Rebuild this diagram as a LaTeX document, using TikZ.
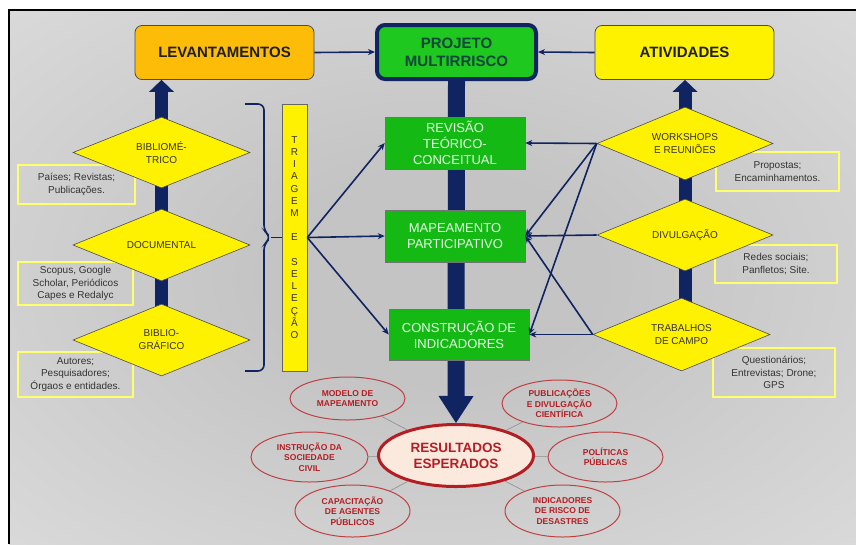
\documentclass[tikz,border=0pt]{standalone}
\usepackage{fontspec}
\setmainfont{Liberation Sans}
\usetikzlibrary{shapes.geometric,arrows.meta}
\definecolor{navy}{RGB}{16,36,98}
\definecolor{levorange}{RGB}{253,188,8}
\definecolor{projgreen}{RGB}{30,200,30}
\definecolor{projtext}{RGB}{16,70,60}
\definecolor{boxgreen}{RGB}{20,185,20}
\definecolor{noteyellow}{RGB}{255,255,110}
\definecolor{resred}{RGB}{180,30,35}
\definecolor{respeach}{RGB}{252,233,222}
\definecolor{bgin}{RGB}{196,196,196}
\definecolor{bgout}{RGB}{250,250,250}
\pgfdeclareradialshading{bgshade}{\pgfpoint{0bp}{0bp}}{color(0bp)=(bgin); color(10bp)=(bgin); color(75bp)=(bgout)}
\pgfdeclarelayer{bg}
\pgfsetlayers{bg,main}
\begin{document}
\begin{tikzpicture}[x=1pt,y=-1pt,
  topbox/.style={draw=black!70, line width=0.8pt, rounded corners=7pt, minimum width=179pt, minimum height=54pt, font=\fontsize{15}{18}\selectfont\bfseries, text=black!88},
  projbox/.style={draw=navy, line width=4pt, fill=projgreen, rounded corners=8pt, minimum width=159pt, minimum height=54pt, align=center, font=\fontsize{15}{18}\selectfont\bfseries, text=projtext},
  gbox/.style={draw=black!55, line width=0.6pt, fill=boxgreen, minimum width=140pt, minimum height=52pt, align=center, inner sep=1pt, font=\fontsize{13}{16}\selectfont, text=white!90!green},
  dia/.style={diamond, draw=black!70, line width=0.6pt, fill=yellow, minimum width=177pt, minimum height=72pt, aspect=2.46, inner sep=0pt, align=center, font=\fontsize{10}{13}\selectfont, text=black!80},
  note/.style={draw=noteyellow, line width=2pt, align=center, inner sep=1pt, font=\fontsize{10}{12.5}\selectfont, text=black!80},
  conn/.style={draw=navy, line width=1.6pt, -{Stealth[length=7pt,width=6pt]}},
  sidebar/.style={draw=navy, line width=13pt, -{Triangle[length=12pt,width=25pt,line width=0pt]}},
  mainbar/.style={draw=navy, line width=17pt, -{Triangle[length=27pt,width=35pt,line width=0pt]}},
  resnode/.style={ellipse, draw=resred, line width=3pt, fill=respeach, minimum width=155pt, minimum height=62pt, inner sep=0pt, align=center, font=\fontsize{13.5}{16}\selectfont\bfseries, text=resred},
  small/.style={ellipse, draw=resred!85, line width=1pt, minimum width=115pt, inner sep=0pt, align=center, font=\fontsize{8.5}{10.3}\selectfont\bfseries, text=resred},
  spoke/.style={draw=black!45, line width=0.6pt}
]
\useasboundingbox (0,0) rectangle (856,544);

% top row
\node[topbox, fill=levorange] (lev) at (224.5,52.5) {LEVANTAMENTOS};
\node[projbox] (proj) at (456.5,52) {PROJETO\\MULTIRRISCO};
\node[topbox, fill=yellow] (ativ) at (684.5,52.5) {ATIVIDADES};

% green boxes
\node[gbox] (rev) at (455,143) {REVISÃO\\TEÓRICO-\\CONCEITUAL};
\node[gbox] (map) at (455,236) {MAPEAMENTO\\PARTICIPATIVO};
\node[gbox, minimum height=51pt] (con) at (459,334.5) {CONSTRUÇÃO DE\\INDICADORES};

% triage bar
\node[draw=black!60, line width=0.6pt, fill=yellow, minimum width=25pt, minimum height=267pt, inner sep=0pt, align=center, font=\fontsize{10}{12.2}\selectfont, text=black!80] (tri) at (294.5,237.5)
 {T\\R\\I\\A\\G\\E\\M\\\strut\\E\\\strut\\S\\E\\L\\E\\Ç\\Ã\\O};

% left notes and diamonds
\node[note, minimum width=117pt, minimum height=39pt] (n1) at (76.5,184.5) {Países; Revistas;\\Publicações.};
\node[note, minimum width=115pt, minimum height=43pt] (n2) at (75.5,283.5) {Scopus, Google\\Scholar, Periódicos\\Capes e Redalyc};
\node[note, minimum width=115pt, minimum height=45pt] (n3) at (75.5,374.5) {Autores;\\Pesquisadores;\\Órgaos e entidades.};
\node[dia, minimum height=71pt] (b1) at (161.5,152.5) {BIBLIOMÉ-\\TRICO};
\node[dia] (b2) at (161.5,245) {DOCUMENTAL};
\node[dia] (b3) at (161.5,340) {BIBLIO-\\GRÁFICO};

% right notes and diamonds
\node[note, minimum width=123pt, minimum height=39pt] (r1) at (777.5,171.5) {Propostas;\\Encaminhamentos.};
\node[note, minimum width=122pt, minimum height=38pt] (r2) at (776,264) {Redes sociais;\\Panfletos; Site.};
\node[note, minimum width=122pt, minimum height=49pt] (r3) at (774,372.5) {Questionários;\\Entrevistas; Drone;\\GPS};
\node[dia, minimum width=176pt, minimum height=73pt] (w) at (685,143.5) {WORKSHOPS\\E REUNIÕES};
\node[dia, minimum width=176pt] (d) at (685,235) {DIVULGAÇÃO};
\node[dia, minimum width=177pt, minimum height=73pt] (t) at (681.5,334.5) {TRABALHOS\\DE CAMPO};

% results
\node[resnode] (res) at (456,455.5) {RESULTADOS\\ESPERADOS};
\node[small, minimum height=43pt] (s1) at (347.5,398.5) {MODELO DE\\MAPEAMENTO};
\node[small, minimum height=47pt] (s2) at (559.5,403.5) {PUBLICAÇÕES\\E DIVULGAÇÃO\\CIENTÍFICA};
\node[small, minimum width=117pt, minimum height=50pt] (s3) at (309.5,457) {INSTRUÇÃO DA\\SOCIEDADE\\CIVIL};
\node[small, minimum height=50pt] (s4) at (605.5,457) {POLÍTICAS\\PÚBLICAS};
\node[small, minimum height=52pt] (s5) at (352.5,511) {CAPACITAÇÃO\\DE AGENTES\\PÚBLICOS};
\node[small, minimum height=52pt] (s6) at (562.5,511) {INDICADORES\\DE RISCO DE\\DESASTRES};

\foreach \s in {s1,s2,s3,s4,s5,s6} \draw[spoke] (res) -- (\s);

% background layer: shading, frame, thick bars
\begin{pgfonlayer}{bg}
  \fill[white] (0,0) rectangle (856,544);
  \shade[shading=bgshade] (9,10) rectangle (856,544);
  \draw[black, line width=1.5pt] (9,544) -- (9,10) -- (856,10);
  \draw[mainbar] (proj.south) -- (res.north);
  \draw[sidebar] (b3.center) -- (lev.south -| b3.center);
  \draw[sidebar] (t.center -| w.center) -- (ativ.south -| w.center);
\end{pgfonlayer}

% top arrows
\draw[conn] (lev.east) -- (proj.west);
\draw[conn] (ativ.west) -- (proj.east);

% brace
\coordinate (bt) at (245,104);
\coordinate (bb) at (245,371);
\coordinate (bm) at (271,237.5);
\draw[navy, line width=1.6pt, rounded corners=6pt] (bt) -- (264,104) -- (264,231) -- (bm) -- (264,244) -- (264,371) -- (bb);
\draw[navy, line width=1.6pt] (bm) -- (tri.west);

% triage to boxes
\draw[conn] (tri.east) -- (rev.west);
\draw[conn] (tri.east) -- (map.west);
\draw[conn] (tri.east) -- (con.west);

% right diamonds to boxes
\draw[conn] (w.west) -- (rev.east);
\draw[conn] (w.west) -- (map.east);
\draw[conn] (w.west) -- (con.east);
\draw[conn] (d.west) -- (map.east);
\draw[conn] (t.west) -- (con.east);
\draw[conn] (t.west) -- (map.east);
\end{tikzpicture}
\end{document}
